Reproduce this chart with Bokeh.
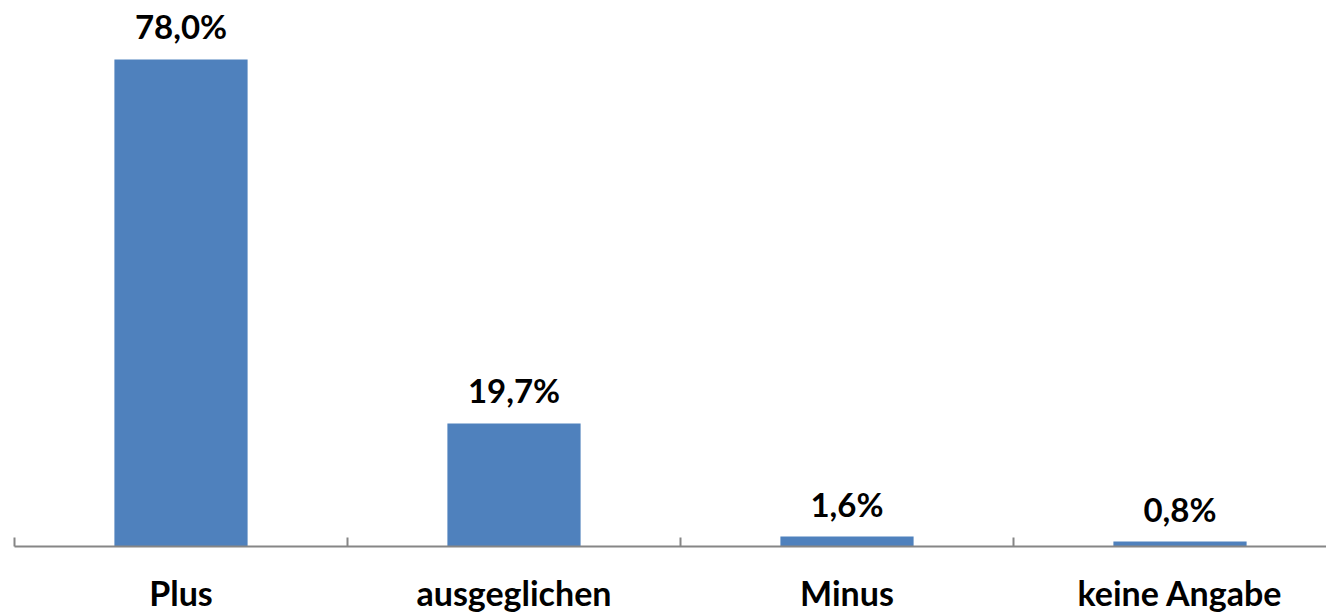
from bokeh.plotting import figure
from bokeh.models import FixedTicker, ColumnDataSource
from bokeh.core.properties import value
from bokeh.embed import file_html
from bokeh.resources import INLINE

categories = ["Plus", "ausgeglichen", "Minus", "keine Angabe"]
values = [78.0, 19.7, 1.6, 0.8]
value_labels = ["78,0%", "19,7%", "1,6%", "0,8%"]

FONT = "Lato"
centers = [i + 0.5 for i in range(len(categories))]
src = ColumnDataSource(dict(x=centers, top=values, lab=value_labels))

p = figure(width=1326, height=616, output_backend="svg", toolbar_location=None,
           x_range=(0, 1312 / 333), y_range=(0, 546 / 6.244),
           min_border_left=14, min_border_right=0, min_border_top=0, min_border_bottom=70)
p.outline_line_color = None
p.grid.visible = False
p.yaxis.visible = False

p.vbar(x="x", top="top", bottom=0, width=0.4, source=src,
       fill_color="#4F81BD", line_color=None)
p.text(x="x", y="top", text="lab", source=src, y_offset=-33,
       text_align="center", text_baseline="alphabetic",
       text_font=value(FONT), text_font_style="bold", text_font_size="33px",
       text_color="#000000")

ax = p.xaxis[0]
ax.ticker = FixedTicker(ticks=centers, minor_ticks=list(range(len(categories) + 1)))
ax.major_label_overrides = {c: n for c, n in zip(centers, categories)}
ax.major_tick_in = 0
ax.major_tick_out = 0
ax.minor_tick_in = 9
ax.minor_tick_out = 0
ax.minor_tick_line_color = "#868686"
ax.minor_tick_line_width = 2
ax.axis_line_color = "#868686"
ax.axis_line_width = 2
ax.major_label_standoff = 25
ax.major_label_text_font = FONT
ax.major_label_text_font_style = "bold"
ax.major_label_text_font_size = "34px"
ax.major_label_text_color = "#000000"

open("out.html", "w").write(file_html(p, INLINE))
